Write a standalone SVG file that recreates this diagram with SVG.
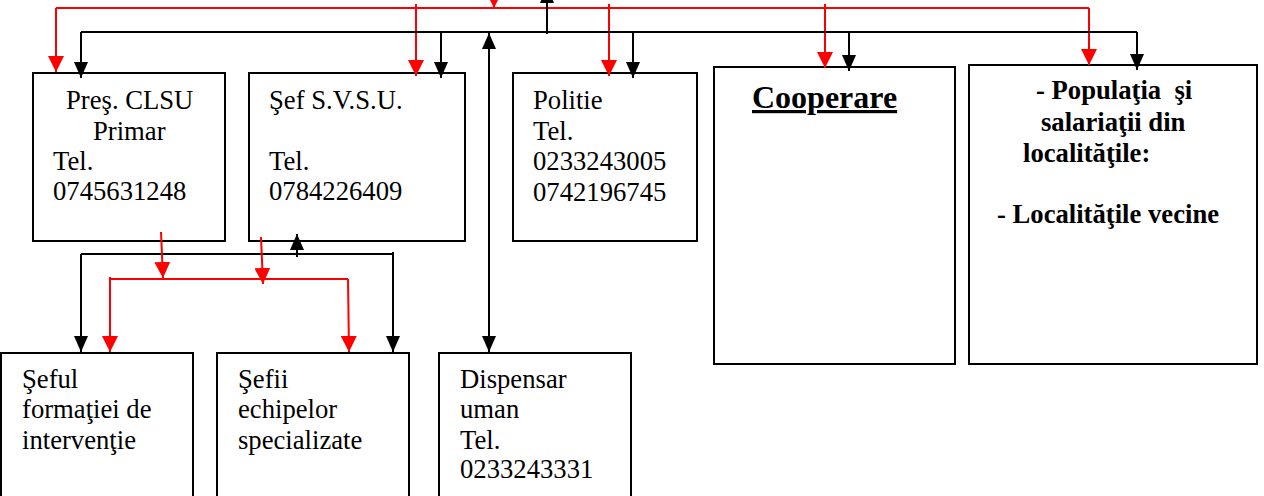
<svg xmlns="http://www.w3.org/2000/svg" width="1264" height="496" viewBox="0 0 1264 496">
<style>
.box{fill:#fff;stroke:#000;stroke-width:2}
text{font-size:26.67px;fill:#000}
.b{font-weight:bold}
.k{fill:none;stroke:#000;stroke-width:2}
.r{fill:none;stroke:#f00;stroke-width:2}
.ka{marker-end:url(#ak)}
.ra{marker-end:url(#ar)}
</style>
<defs>
<marker id="ak" markerUnits="userSpaceOnUse" markerWidth="16" markerHeight="16" viewBox="0 0 16 16" refX="16" refY="8" orient="auto"><path d="M0,1 L16,8 L0,15 z" fill="#000"/></marker>
<marker id="ar" markerUnits="userSpaceOnUse" markerWidth="16" markerHeight="16" viewBox="0 0 16 16" refX="16" refY="8" orient="auto"><path d="M0,0 L16,8 L0,16 z" fill="#f00"/></marker>
<marker id="aks" markerUnits="userSpaceOnUse" markerWidth="16" markerHeight="16" viewBox="0 0 16 16" refX="16" refY="8" orient="auto-start-reverse"><path d="M0,1 L16,8 L0,15 z" fill="#000"/></marker>
</defs>
<rect width="1264" height="496" fill="#fff"/>
<g font-family="Liberation Serif, Tinos, DejaVu Serif, serif">
<g id="n-pres">
<rect class="box" x="33" y="73" width="192" height="168"/>
<text x="66" y="109">Preş. CLSU</text>
<text x="93" y="140">Primar</text>
<text x="53" y="170">Tel.</text>
<text x="53" y="200">0745631248</text>
</g>
<g id="n-svsu">
<rect class="box" x="249" y="73" width="216" height="168"/>
<text x="269" y="109">Şef S.V.S.U.</text>
<text x="269" y="170">Tel.</text>
<text x="269" y="200">0784226409</text>
</g>
<g id="n-politie">
<rect class="box" x="513" y="73" width="184" height="168"/>
<text x="533" y="109">Politie</text>
<text x="533" y="140">Tel.</text>
<text x="533" y="170">0233243005</text>
<text x="533" y="201">0742196745</text>
</g>
<g id="n-cooperare">
<rect class="box" x="714" y="67" width="241" height="297"/>
<text class="b" x="752" y="108" style="font-size:32px;text-decoration:underline">Cooperare</text>
</g>
<g id="n-populatia">
<rect class="box" x="969" y="65" width="288" height="299"/>
<text class="b" x="1036" y="99" xml:space="preserve">- Populaţia  şi</text>
<text class="b" x="1041" y="131">salariaţii din</text>
<text class="b" x="1023" y="162">localităţile:</text>
<text class="b" x="997" y="223">- Localităţile vecine</text>
</g>
<g id="n-seful">
<rect class="box" x="1" y="353" width="192" height="150"/>
<text x="22" y="388">Şeful</text>
<text x="22" y="418">formaţiei de</text>
<text x="22" y="449">intervenţie</text>
</g>
<g id="n-sefii">
<rect class="box" x="217" y="353" width="192" height="150"/>
<text x="238" y="388">Şefii</text>
<text x="238" y="418">echipelor</text>
<text x="238" y="449">specializate</text>
</g>
<g id="n-dispensar">
<rect class="box" x="439" y="353" width="192" height="150"/>
<text x="460" y="388">Dispensar</text>
<text x="460" y="418">uman</text>
<text x="460" y="449">Tel.</text>
<text x="460" y="478">0233243331</text>
</g>
</g>
<g id="connectors">
<path class="r" d="M56,8 H1089"/>
<path class="r ra" d="M56,8 V72"/>
<path class="r ra" d="M1089,8 V65"/>
<path class="r ra" d="M416,4 V76"/>
<path class="r ra" d="M609,4 V76"/>
<path class="r ra" d="M825,4 V68"/>
<path class="r ra" d="M494,-12 V8"/>
<path class="k" d="M81,32 H1137"/>
<path class="k ka" d="M81,32 V78"/>
<path class="k ka" d="M441,32 V78"/>
<path class="k ka" d="M633,32 V78"/>
<path class="k ka" d="M849,32 V71"/>
<path class="k ka" d="M1137,32 V70"/>
<path class="k ka" d="M547,34 V-13"/>
<path class="k" d="M489,33 V352" marker-start="url(#aks)" marker-end="url(#ak)"/>
<path class="k ka" d="M297,257 V234"/>
<path class="k" d="M81,254 H393"/>
<path class="k ka" d="M81,254 V352"/>
<path class="k ka" d="M393,252 V352"/>
<path class="r ra" d="M161,232 L163,278"/>
<path class="r ra" d="M261,237 L263,284"/>
<path class="r" d="M109,279 H348"/>
<path class="r ra" d="M110,277 V352"/>
<path class="r ra" d="M348,279 L349,352"/>
</g>
</svg>
